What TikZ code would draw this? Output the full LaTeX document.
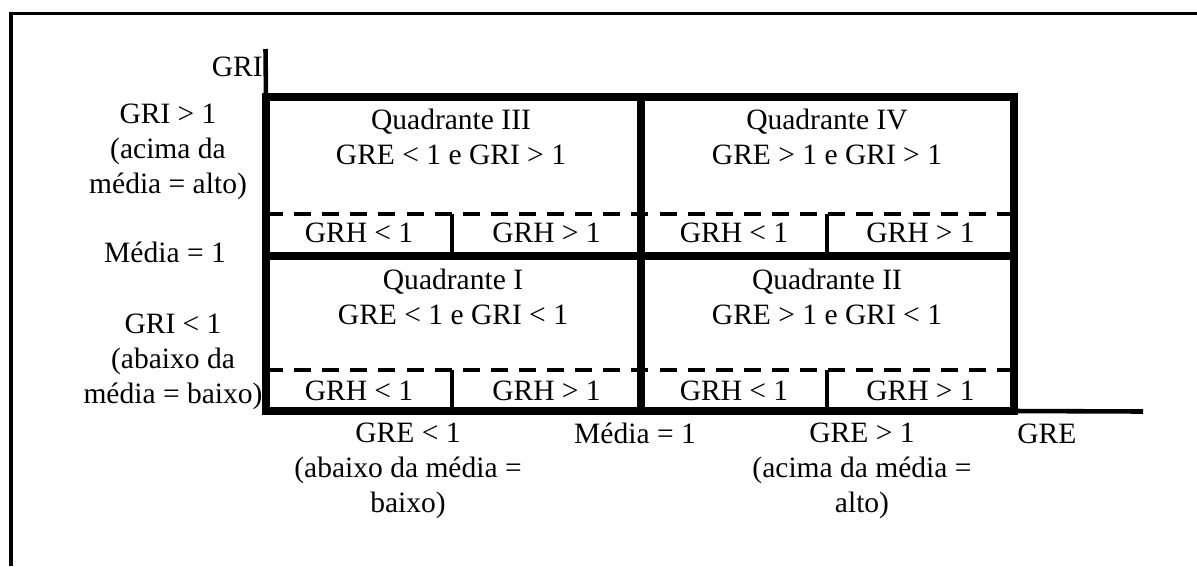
\documentclass[tikz,border=0pt]{standalone}
\usepackage{fontspec}
\setmainfont{Liberation Serif}

\begin{document}
\begin{tikzpicture}[x=0.02cm,y=-0.02cm]
\tikzstyle{grosso}=[line width=4.3pt]
\tikzstyle{fino}=[line width=2.6pt]
\tikzstyle{tracejado}=[line width=2.8pt,dash pattern=on 9.7pt off 6.3pt]
\tikzstyle{rotulo}=[inner sep=0pt,align=center,font=\fontsize{16.8}{20}\selectfont]
\useasboundingbox (0,0) rectangle (1197,566);
% moldura
\draw[line width=2.2pt] (11,566) -- (11,13.5) -- (1197,13.5);
% cantos da grade
\coordinate (tl) at (266,97);
\coordinate (tr) at (1014,97);
\coordinate (bl) at (266,411);
\coordinate (br) at (1014,411);
\coordinate (ml) at (266,256);
\coordinate (mr) at (1014,256);
\coordinate (mt) at (641,97);
\coordinate (mb) at (641,411);
\coordinate (d1l) at (266,214);
\coordinate (d1r) at (1014,214);
\coordinate (d2l) at (266,370);
\coordinate (d2r) at (1014,370);
\coordinate (gri) at (265.5,49);
\coordinate (gre) at (1143,411.5);
% eixos
\draw[fino] (gri) -- (tl);
\draw[fino] (br) -- (gre);
% linhas GRH
\draw[tracejado] (d1l) -- (d1r);
\draw[tracejado] (d2l) -- (d2r);
\foreach \x in {452,827}
  \foreach \y/\z in {214/256,370/411}
    \draw[fino] (\x,\y) -- (\x,\z);
% quadrantes
\draw[grosso] (tl) rectangle (br);
\draw[grosso] (ml) -- (mr);
\draw[grosso] (mt) -- (mb);
% textos
\node[rotulo,anchor=base east] (lgri) at (263,76) {GRI};
\node[rotulo] (alto) at (168,152) {GRI > 1\\(acima da\\média = alto)};
\node[rotulo,anchor=base] (mgri) at (165,262) {Média = 1};
\node[rotulo] (baixo) at (173,362) {GRI < 1\\(abaixo da\\média = baixo)};
\node[rotulo] (q3) at (451,137) {Quadrante III\\GRE < 1 e GRI > 1};
\node[rotulo] (q4) at (827,137) {Quadrante IV\\GRE > 1 e GRI > 1};
\node[rotulo] (q1) at (453,296.5) {Quadrante I\\GRE < 1 e GRI < 1};
\node[rotulo] (q2) at (827,296.5) {Quadrante II\\GRE > 1 e GRI < 1};
\foreach \x/\op [count=\i] in {359/<,546.5/>,734/<,920.5/>}
  \foreach \y/\r in {233/a,391/b}
    \node[rotulo] (grh\r\i) at (\x,\y) {GRH \op{} 1};
\node[rotulo] (ebaixo) at (408,471) {GRE < 1\\(abaixo da média =\\baixo)};
\node[rotulo,anchor=base] (mgre) at (635,443) {Média = 1};
\node[rotulo] (ealto) at (862,471) {GRE > 1\\(acima da média =\\alto)};
\node[rotulo,anchor=base west] (lgre) at (1017,443) {GRE};
\end{tikzpicture}
\end{document}
